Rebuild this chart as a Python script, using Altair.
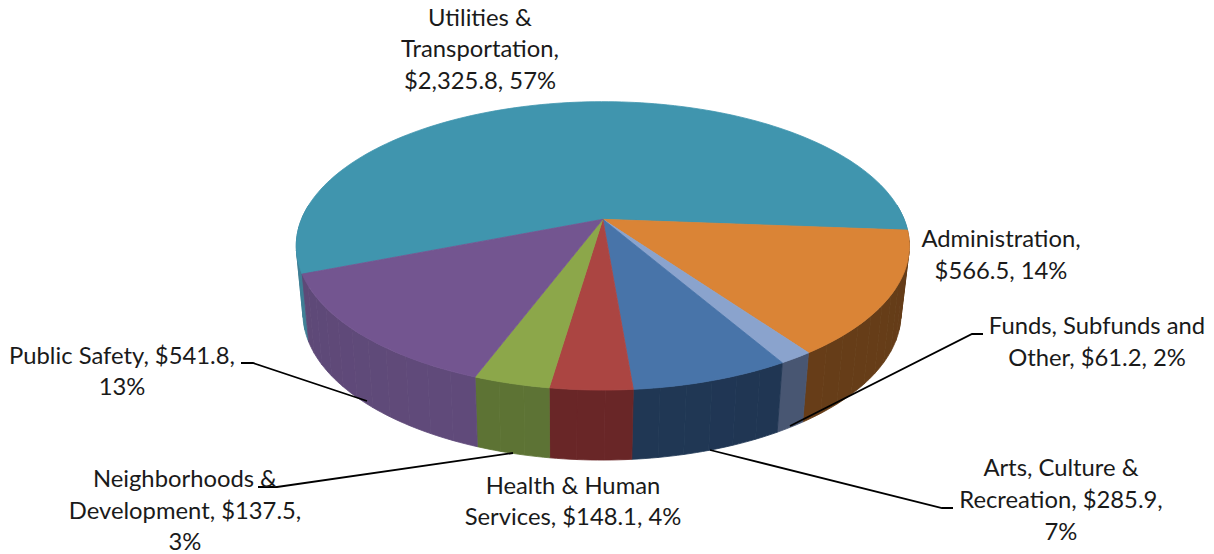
import math
import altair as alt
import pandas as pd

# ---- values
categories = ["Utilities & Transportation", "Administration", "Funds, Subfunds and Other",
              "Arts, Culture & Recreation", "Health & Human Services",
              "Neighborhoods & Development", "Public Safety"]
amounts = [2325.8, 566.5, 61.2, 285.9, 148.1, 137.5, 541.8]
top_colors = ["#4095ae", "#da8436", "#8aa3cd", "#4874a9", "#ab4542", "#8ca74a", "#735590"]
side_colors = ["#3f7f95", "#643c18", "#46546f", "#1f3551", "#652526", "#5a6f33", "#5d4876"]

label_lines = [
    ["Utilities &", "Transportation,", "$2,325.8, 57%"],
    ["Administration,", "$566.5, 14%"],
    ["Funds, Subfunds and", "Other, $61.2, 2%"],
    ["Arts, Culture &", "Recreation, $285.9,", "7%"],
    ["Health & Human", "Services, $148.1, 4%"],
    ["Neighborhoods &", "Development, $137.5,", "3%"],
    ["Public Safety, $541.8,", "13%"],
]
label_x = [480, 1001, 1097, 1061, 573, 185, 122]
label_y = [[19, 50, 82], [240, 272], [327, 359], [469, 501, 533], [487, 518], [480, 512, 543], [357, 388]]
leaders = [
    [(983, 334), (972, 334), (790, 426)],
    [(953, 508), (942, 508), (710, 450)],
    [(258, 487), (277, 487), (513, 453)],
    [(241, 363), (253, 363), (367, 401)],
]

# ---- tilted-disc view
START = -111.5
K = 0.1842
TOP = dict(cx=602.8, cy=219.3, R=301.3, S=139.3)
BOT = dict(cx=602.0, cy=286.0, R=294.0, S=142.0)


def project(disc, deg):
    a = math.radians(deg)
    u, v = math.sin(a), math.cos(a)
    w = 1 + K * v
    return disc["cx"] + disc["R"] * u / w, disc["cy"] - disc["S"] * v / w


def shade(hex_color, f):
    r, g, b = (int(hex_color[i:i + 2], 16) for i in (1, 3, 5))
    return "#%02x%02x%02x" % tuple(min(255, int(c * f)) for c in (r, g, b))


total = sum(amounts)
edges = [START]
for val in amounts:
    edges.append(edges[-1] + val / total * 360)

rows = []
pid = 0


def add_poly(points, color):
    global pid
    closed = list(points) + [points[0]]
    for i, (x, y) in enumerate(closed):
        rows.append(dict(pid=pid, i=i, x=x, y=y, c=color))
    pid += 1


# side wall, cut in bands (visible front part only)
for s in range(len(amounts)):
    a0, a1 = edges[s], edges[s + 1]
    for off in (0, 360):
        lo = max(a0 + off, 84)
        hi = min(a1 + off, 276)
        if hi <= lo:
            continue
        n = max(1, int((hi - lo) / 4))
        for j in range(n):
            b0 = lo + (hi - lo) * j / n
            b1 = lo + (hi - lo) * (j + 1) / n
            mid = (b0 + b1) / 2
            f = 1 + 0.04 * math.cos(math.radians(mid - 180))
            steps = [b0 + (b1 - b0) * q / 4 for q in range(5)]
            pts = [project(TOP, q) for q in steps] + [project(BOT, q) for q in reversed(steps)]
            add_poly(pts, shade(side_colors[s], f))

# top face
for s in range(len(amounts)):
    a0, a1 = edges[s], edges[s + 1]
    n = max(2, int((a1 - a0) / 1.5))
    pts = [(TOP["cx"], TOP["cy"])]
    pts += [project(TOP, a0 + (a1 - a0) * j / n) for j in range(n + 1)]
    add_poly(pts, top_colors[s])

polys = pd.DataFrame(rows)

text_rows = []
for lines, lx, ys in zip(label_lines, label_x, label_y):
    for t, ly in zip(lines, ys):
        text_rows.append(dict(t=t, x=lx, y=ly))
texts = pd.DataFrame(text_rows)

line_rows = []
for n, path in enumerate(leaders):
    for i, (x, y) in enumerate(path):
        line_rows.append(dict(n=n, i=i, x=x, y=y))
lines_df = pd.DataFrame(line_rows)

X = alt.X("x:Q", axis=None, scale=alt.Scale(domain=[8, 1206], nice=False, zero=False))
Y = alt.Y("y:Q", axis=None, scale=alt.Scale(domain=[554, 8], nice=False, zero=False))

pie = alt.Chart(polys).mark_line(filled=True, strokeWidth=0.8, interpolate="linear").encode(
    x=X, y=Y, detail="pid:N", order="i:Q",
    fill=alt.Fill("c:N", scale=None, legend=None),
    stroke=alt.Stroke("c:N", scale=None, legend=None),
)

leader = alt.Chart(lines_df).mark_line(color="#000000", strokeWidth=1.8).encode(
    x=X, y=Y, detail="n:N", order="i:Q"
)

labels = alt.Chart(texts).mark_text(
    font="Lato", fontSize=23.8, color="#1a1a1a", align="center", baseline="middle"
).encode(x=X, y=Y, text="t:N")

chart = (pie + leader + labels).properties(
    width=1198, height=546, padding=0,
    autosize=alt.AutoSizeParams(type="none"),
    background="#ffffff",
).configure_view(stroke=None)

chart.save("out.html", embed_options={"renderer": "svg", "actions": False})
